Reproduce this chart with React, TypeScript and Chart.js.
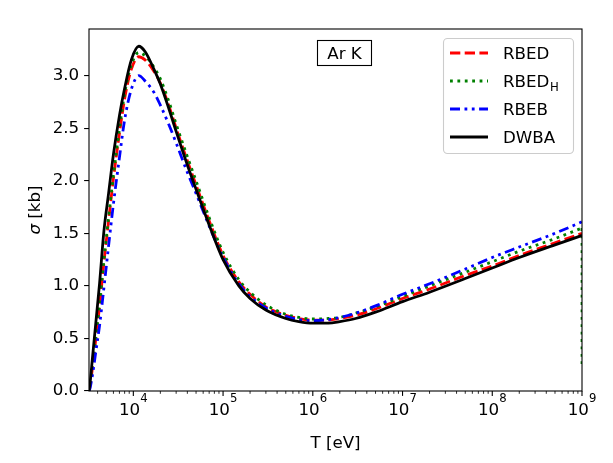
import React, { useEffect, useRef } from "react";
import { Chart, registerables } from "chart.js";

Chart.register(...registerables);

// Electron energy T [eV]
const energies = [
  3206, 3300, 3500, 3800, 4200, 4700, 5300, 6000, 7000, 8000, 9500, 11500, 13500,
  17000, 20000, 25000, 30000, 40000, 50000, 70000, 1e5, 1.5e5, 2e5, 3e5, 5e5, 7e5, 1e6,
  1.5e6, 2e6, 3e6, 5e6, 1e7, 2e7, 5e7, 1e8, 2e8, 5e8, 1e9,
];

// Cross sections sigma [kb]
const rbed = [
  0, 0.05, 0.22, 0.48, 0.8, 1.22, 1.62, 2.02, 2.45, 2.78, 3.06, 3.18, 3.15,
  3.04, 2.93, 2.71, 2.5, 2.19, 1.96, 1.62, 1.29, 1.04, 0.92, 0.8, 0.72, 0.69, 0.675,
  0.675, 0.69, 0.72, 0.78, 0.88, 0.97, 1.1, 1.19, 1.29, 1.41, 1.5,
];
const rbedH = [
  0, 0.05, 0.23, 0.5, 0.82, 1.24, 1.65, 2.05, 2.49, 2.83, 3.1, 3.22, 3.19,
  3.08, 2.97, 2.75, 2.54, 2.23, 2.0, 1.65, 1.32, 1.06, 0.94, 0.82, 0.73, 0.7, 0.685,
  0.69, 0.7, 0.74, 0.8, 0.9, 1.0, 1.13, 1.23, 1.33, 1.45, 1.55,
];
const rbedHEnd = [1.55, 0.22]; // last RBED_H values, both at T = 1e9
const rbeb = [
  0, 0.03, 0.15, 0.36, 0.62, 0.98, 1.38, 1.78, 2.22, 2.58, 2.87, 3.0, 2.95,
  2.84, 2.72, 2.53, 2.36, 2.08, 1.88, 1.57, 1.27, 1.02, 0.9, 0.79, 0.71, 0.68, 0.67,
  0.68, 0.7, 0.74, 0.81, 0.92, 1.02, 1.16, 1.27, 1.37, 1.5, 1.61,
];
const dwba = [
  0, 0.08, 0.31, 0.63, 1.02, 1.52, 1.88, 2.25, 2.62, 2.88, 3.15, 3.28, 3.23,
  3.06, 2.92, 2.68, 2.47, 2.15, 1.92, 1.58, 1.25, 1.0, 0.88, 0.77, 0.69, 0.66, 0.645,
  0.645, 0.66, 0.69, 0.75, 0.85, 0.94, 1.07, 1.17, 1.27, 1.39, 1.48,
];

const xMin = 3206;
const xMax = 1e9;
const yMax = 3.444;
const xTickExponents = [4, 5, 6, 7, 8, 9];
const yTickStep = 0.5;
const titleText = "Ar K";
const xLabel = "T [eV]";
const yLabelSymbol = "σ";
const yLabelUnit = " [kb]";

const FONT = '"DejaVu Sans", sans-serif';
const FS = 16.7;
const LW = 2.78;
const dashRBED = [10.3, 4.4];
const dashRBEDH = [2.8, 4.6];
const dashRBEB = [10, 4.5, 2.8, 4.5, 2.8, 4.5];

const toPts = (ys: number[]) => ys.map((y, i) => ({ x: energies[i], y }));

const legendItems = [
  { main: "RBED", sub: "", color: "#ff0000", dash: dashRBED },
  { main: "RBED", sub: "H", color: "#008000", dash: dashRBEDH },
  { main: "RBEB", sub: "", color: "#0000ff", dash: dashRBEB },
  { main: "DWBA", sub: "", color: "#000000", dash: [] as number[] },
];

const decorPlugin = {
  id: "decor",
  beforeDraw(chart: any) {
    const ctx = chart.ctx;
    ctx.save();
    ctx.fillStyle = "#ffffff";
    ctx.fillRect(0, 0, chart.width, chart.height);
    ctx.restore();
  },
  afterDraw(chart: any) {
    const ctx = chart.ctx as CanvasRenderingContext2D;
    const a = chart.chartArea;
    const xs = chart.scales.x;
    ctx.save();
    // frame
    ctx.strokeStyle = "#000";
    ctx.lineWidth = 1.1;
    ctx.setLineDash([]);
    ctx.strokeRect(a.left, a.top, a.right - a.left, a.bottom - a.top);

    // x ticks
    for (let k = 3; k <= 9; k++) {
      for (let m = 1; m <= 9; m++) {
        const v = m * Math.pow(10, k);
        if (v < xMin - 1e-6 || v > xMax * 1.000001) continue;
        const px = xs.getPixelForValue(v);
        const major = m === 1;
        ctx.beginPath();
        ctx.lineWidth = major ? 1.1 : 0.83;
        ctx.moveTo(px, a.bottom);
        ctx.lineTo(px, a.bottom + (major ? 4.9 : 2.8));
        ctx.stroke();
      }
    }
    // x tick labels
    ctx.fillStyle = "#000";
    ctx.textBaseline = "alphabetic";
    ctx.textAlign = "left";
    for (const e of xTickExponents) {
      const px = xs.getPixelForValue(Math.pow(10, e));
      ctx.font = `${FS}px ${FONT}`;
      const wBase = ctx.measureText("10").width;
      ctx.font = `${FS * 0.7}px ${FONT}`;
      const wExp = ctx.measureText(String(e)).width;
      const x0 = px - (wBase + wExp) / 2;
      ctx.font = `${FS}px ${FONT}`;
      ctx.fillText("10", x0, 415);
      ctx.font = `${FS * 0.7}px ${FONT}`;
      ctx.fillText(String(e), x0 + wBase, 402);
    }
    // x label
    ctx.font = `${FS}px ${FONT}`;
    ctx.textAlign = "center";
    ctx.fillText(xLabel, (a.left + a.right) / 2, 448);

    // y label
    ctx.save();
    ctx.translate(36, (a.top + a.bottom) / 2);
    ctx.rotate(-Math.PI / 2);
    ctx.font = `italic ${FS}px ${FONT}`;
    const wS = ctx.measureText(yLabelSymbol).width;
    ctx.font = `${FS}px ${FONT}`;
    const wU = ctx.measureText(yLabelUnit).width;
    ctx.textAlign = "left";
    ctx.textBaseline = "middle";
    ctx.font = `italic ${FS}px ${FONT}`;
    ctx.fillText(yLabelSymbol, -(wS + wU) / 2, 0);
    ctx.font = `${FS}px ${FONT}`;
    ctx.fillText(yLabelUnit, -(wS + wU) / 2 + wS, 0);
    ctx.restore();

    // title box
    ctx.lineWidth = 1.1;
    ctx.strokeStyle = "#000";
    ctx.fillStyle = "#fff";
    ctx.fillRect(317.5, 40.5, 54, 25);
    ctx.strokeRect(317.5, 40.5, 54, 25);
    ctx.fillStyle = "#000";
    ctx.font = `${FS}px ${FONT}`;
    ctx.textAlign = "center";
    ctx.textBaseline = "alphabetic";
    ctx.fillText(titleText, 344.5, 59);

    // legend
    ctx.beginPath();
    ctx.fillStyle = "rgba(255,255,255,0.8)";
    ctx.strokeStyle = "#cccccc";
    ctx.lineWidth = 1.1;
    (ctx as any).roundRect(443.5, 38.5, 130, 115, 4);
    ctx.fill();
    ctx.stroke();
    legendItems.forEach((it, i) => {
      const y = 53 + i * 28;
      ctx.beginPath();
      ctx.strokeStyle = it.color;
      ctx.lineWidth = LW;
      ctx.lineCap = "butt";
      ctx.setLineDash(it.dash);
      ctx.lineDashOffset = 0;
      ctx.moveTo(450, y);
      ctx.lineTo(488, y);
      ctx.stroke();
      ctx.setLineDash([]);
      ctx.fillStyle = "#000";
      ctx.textAlign = "left";
      ctx.textBaseline = "alphabetic";
      ctx.font = `${FS}px ${FONT}`;
      ctx.fillText(it.main, 503, y + 6);
      if (it.sub) {
        const w = ctx.measureText(it.main).width;
        ctx.font = `${FS * 0.7}px ${FONT}`;
        ctx.fillText(it.sub, 503 + w + 0.5, y + 9.5);
      }
    });
    ctx.restore();
  },
};

export default function App() {
  const ref = useRef<HTMLCanvasElement | null>(null);
  useEffect(() => {
    document.body.style.margin = "0";
    document.body.style.background = "#ffffff";
    const canvas = ref.current!;
    const common = {
      pointRadius: 0,
      borderWidth: LW,
      fill: false,
      borderCapStyle: "butt" as const,
      cubicInterpolationMode: "monotone" as const,
    };
    const chart = new Chart(canvas, {
      type: "line",
      data: {
        datasets: [
          { ...common, label: "RBED", data: toPts(rbed), borderColor: "#ff0000", borderDash: dashRBED, order: 4 },
          { ...common, label: "RBED_H", data: toPts(rbedH), borderColor: "#008000", borderDash: dashRBEDH, order: 3 },
          {
            ...common,
            label: "RBED_H end",
            data: rbedHEnd.map((y) => ({ x: energies[energies.length - 1], y })),
            borderColor: "#008000",
            borderDash: dashRBEDH,
            cubicInterpolationMode: "default" as const,
            tension: 0,
            order: 3,
          },
          { ...common, label: "RBEB", data: toPts(rbeb), borderColor: "#0000ff", borderDash: dashRBEB, order: 2 },
          { ...common, label: "DWBA", data: toPts(dwba), borderColor: "#000000", order: 1 },
        ],
      },
      options: {
        animation: false,
        responsive: false,
        devicePixelRatio: 1,
        layout: { padding: { top: 29, right: 31, bottom: 0, left: 0 } },
        plugins: { legend: { display: false }, tooltip: { enabled: false } },
        scales: {
          x: {
            type: "logarithmic",
            min: xMin,
            max: xMax,
            ticks: { display: false },
            grid: { display: false },
            border: { display: false },
            afterFit: (s: any) => {
              s.height = 72;
            },
          },
          y: {
            type: "linear",
            min: 0,
            max: yMax,
            ticks: {
              stepSize: yTickStep,
              includeBounds: false,
              callback: (v: any) => Number(v).toFixed(1),
              font: { family: FONT, size: FS },
              color: "#000",
              padding: 4.9,
            },
            grid: {
              display: true,
              drawOnChartArea: false,
              drawTicks: true,
              tickLength: 4.9,
              color: "#000",
              lineWidth: 1.1,
            },
            border: { display: false },
            afterFit: (s: any) => {
              s.width = 89;
            },
          },
        },
      } as any,
      plugins: [decorPlugin],
    });
    return () => chart.destroy();
  }, []);
  return (
    <div style={{ width: 613, height: 463 }}>
      <canvas ref={ref} width={613} height={463} style={{ display: "block", width: 613, height: 463 }} />
    </div>
  );
}
